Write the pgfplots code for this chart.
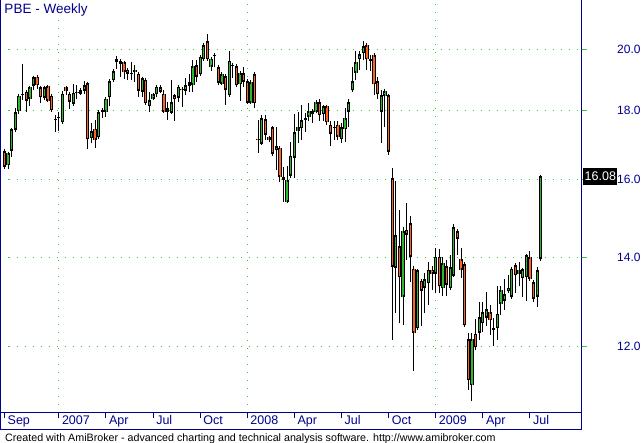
\documentclass[border=0pt]{standalone}
\usepackage{pgfplots}
\usepackage{pgfplotstable}
\pgfplotsset{compat=1.18}
\usepackage{fontspec}
\setmainfont{Liberation Sans}
\definecolor{abNavy}{HTML}{00008C}
\definecolor{abGrid}{HTML}{33CC33}
\definecolor{abUp}{HTML}{2DB82D}
\definecolor{abDown}{HTML}{FF6420}

% weekly PBE candles: week index, open, high, low, close
\pgfplotstableread{
i o h l c
0 16.80 16.83 16.29 16.34
1 16.39 16.77 16.29 16.73
2 16.81 17.44 16.62 17.43
3 17.41 18.09 17.40 17.95
4 17.98 18.49 17.90 18.47
5 18.51 19.50 18.33 18.48
6 18.60 18.62 17.97 18.31
7 18.37 18.75 18.14 18.74
8 18.78 19.07 18.65 19.06
9 19.09 19.10 18.70 18.80
10 18.74 18.75 18.24 18.42
11 18.40 18.75 18.38 18.74
12 18.77 18.78 18.28 18.31
13 18.47 18.48 17.97 18.01
14 17.74 17.87 17.36 17.72
15 17.80 17.97 17.39 17.82
16 17.65 18.62 17.64 18.54
17 18.74 18.75 18.48 18.63
18 18.54 18.55 18.06 18.28
19 18.21 18.84 18.18 18.57
20 18.57 18.80 18.35 18.59
21 18.54 18.70 18.49 18.65
22 18.63 18.93 18.52 18.80
23 18.87 18.92 16.86 17.14
24 17.17 17.62 17.02 17.37
25 17.45 17.72 16.88 17.12
26 17.20 17.98 17.18 17.96
27 17.96 18.02 17.78 18.02
28 17.97 18.39 17.82 18.38
29 18.42 18.95 18.14 18.94
30 18.97 19.32 18.95 19.27
31 19.69 19.78 19.33 19.58
32 19.61 19.62 19.08 19.51
33 19.56 19.57 19.01 19.24
34 19.32 19.33 18.99 19.19
35 19.20 19.57 18.97 19.22
36 19.24 19.47 18.92 19.32
37 19.19 19.20 18.44 18.63
38 18.60 19.04 18.44 19.03
39 18.99 19.00 18.18 18.23
40 18.14 18.60 17.97 18.32
41 18.38 18.54 18.33 18.51
42 18.51 18.77 18.44 18.76
43 18.74 18.81 18.59 18.60
44 18.54 18.65 17.96 17.97
45 18.07 18.28 17.72 17.97
46 17.94 18.99 17.92 18.26
47 18.48 18.49 17.70 18.35
48 18.40 18.77 18.28 18.76
49 18.70 18.71 18.12 18.64
50 18.63 19.03 18.49 18.80
51 18.79 19.16 18.60 18.91
52 18.81 19.64 18.60 19.43
53 19.47 19.64 18.92 19.08
54 19.16 19.78 19.14 19.75
55 19.66 20.18 19.64 20.15
56 20.29 20.53 19.64 19.66
57 19.41 19.74 19.28 19.69
58 19.80 19.87 19.39 19.78
59 19.41 19.44 18.87 18.88
60 18.86 19.18 18.84 19.17
61 19.11 19.14 18.18 18.65
62 18.48 19.96 18.46 19.61
63 19.45 19.53 19.03 19.47
64 19.44 19.45 18.78 18.80
65 18.83 19.23 18.31 19.21
66 19.21 19.41 18.76 18.91
67 18.94 18.95 18.24 18.25
68 18.25 18.92 18.24 18.91
69 19.17 19.18 18.09 18.23
70 17.15 17.72 16.75 17.13
71 17.01 17.87 17.00 17.77
72 17.75 17.86 17.12 17.27
73 17.20 17.21 17.07 17.12
74 17.49 17.50 16.69 16.71
75 16.82 17.50 16.26 16.94
76 16.89 16.90 15.93 16.06
77 16.06 16.35 15.40 15.98
78 15.40 16.37 15.36 15.98
79 16.09 17.07 16.03 16.66
80 16.61 17.90 16.04 17.35
81 17.39 17.97 17.02 17.50
82 17.46 18.17 17.12 17.72
83 17.71 17.94 17.36 17.78
84 17.82 18.25 17.67 17.99
85 17.99 18.04 17.63 17.89
86 17.97 18.28 17.92 18.27
87 18.27 18.38 17.67 17.86
88 17.89 18.17 17.67 18.14
89 18.14 18.15 17.57 17.65
90 17.57 17.67 16.93 17.31
91 17.49 17.67 17.12 17.47
92 17.57 17.67 17.12 17.22
93 17.14 17.62 17.04 17.50
94 17.43 18.07 17.07 17.77
95 17.97 18.38 17.51 18.27
96 18.64 19.41 18.60 18.93
97 19.21 19.93 18.97 19.57
98 19.66 19.95 19.30 19.84
99 19.87 20.30 19.64 20.11
100 20.14 20.21 19.32 19.66
101 19.66 19.81 19.28 19.62
102 19.81 19.87 18.49 18.83
103 18.94 19.08 18.38 18.52
104 17.97 18.65 17.04 18.49
105 18.46 18.65 17.51 18.62
106 18.48 18.49 16.69 16.77
107 16.03 16.31 12.14 13.76
108 13.74 15.96 12.72 14.54
109 14.27 15.18 12.49 13.52
110 13.07 14.75 12.46 14.64
111 14.67 15.35 13.93 14.55
112 14.84 15.01 13.42 14.00
113 13.72 13.78 11.51 12.29
114 12.39 13.68 12.36 13.68
115 13.44 13.45 12.43 13.21
116 13.28 13.62 12.72 13.48
117 13.38 13.89 12.90 13.70
118 13.70 13.78 13.23 13.60
119 13.60 14.21 13.16 14.01
120 14.01 14.19 13.16 13.31
121 13.27 14.01 13.10 13.85
122 13.78 13.93 13.10 13.34
123 13.27 14.05 13.23 13.76
124 13.56 14.82 13.55 14.74
125 14.64 14.67 14.05 14.45
126 13.95 14.21 13.50 13.70
127 13.83 13.84 12.42 12.45
128 12.16 12.29 11.15 11.33
129 11.23 12.29 10.93 12.16
130 12.27 12.58 11.94 11.99
131 12.29 12.97 12.14 12.63
132 12.49 12.96 12.30 12.74
133 12.61 13.19 12.44 12.80
134 12.74 12.90 12.25 12.56
135 12.35 12.61 12.01 12.40
136 12.39 13.31 12.14 12.70
137 12.92 13.32 12.68 13.23
138 12.99 13.48 12.79 13.14
139 13.20 13.58 13.18 13.28
140 13.07 13.77 13.05 13.72
141 13.81 13.85 13.16 13.57
142 13.60 13.87 13.31 13.68
143 13.50 13.74 13.06 13.71
144 13.52 14.05 12.99 14.04
145 14.00 14.15 13.46 13.48
146 13.41 13.46 12.97 13.03
147 13.07 13.77 12.84 13.68
148 13.95 16.08 13.95 16.08
}\pbe

\pgfplotsset{
    candle/.style={draw=none, mark=none, forget plot},
}
\tikzset{
    ylab/.style={anchor=west, inner sep=0pt, text=abNavy, xshift=36pt,
        font=\fontsize{12}{12}\selectfont},
}

\begin{document}
\begin{tikzpicture}
\path[use as bounding box] (0pt,0pt) rectangle (642pt,443pt);
\begin{axis}[
    at={(0.5pt,30pt)}, anchor=south west,
    scale only axis, width=580.5pt, height=413pt,
    xmin=-1.1, xmax=159.1,
    ymode=log, ymin=10.71, ymax=21.77,
    clip=false,
    axis line style={abNavy, line width=1pt},
    tick align=outside, major tick length=5.5pt,
    % year lines carry the vertical grid, months are extra ticks
    xtick={15,67,119},
    xticklabels={2007,2008,2009},
    extra x ticks={0,28,41,54,80,93,106,132,145},
    extra x tick labels={Sep,Apr,Jul,Oct,Apr,Jul,Oct,Apr,Jul},
    extra x tick style={grid=none},
    xtick pos=left,
    x tick style={abNavy, line width=1pt},
    xticklabel style={abNavy, anchor=north west, inner sep=0pt, xshift=3pt, yshift=3pt,
        font=\fontsize{12.5}{12.5}\selectfont},
    xmajorgrids, ymajorgrids,
    major grid style={abGrid, line width=1pt, dash pattern=on 1pt off 7pt},
    ytick={12,14,16,18,20},
    yticklabels={},
    yminorticks=false,
    ytick pos=right,
    y tick style={abGrid, line width=1pt},
]
% wicks
\addplot[candle,
    error bars/.cd, y dir=plus, y explicit, error mark=none,
    error bar style={draw=black, line width=1pt}]
    table[x=i, y=l, y error expr={\thisrow{h}-\thisrow{l}}] {\pbe};
% black body outlines
\addplot[candle,
    error bars/.cd, y dir=plus, y explicit, error mark=none,
    error bar style={draw=black, line width=3.3pt}]
    table[x=i, y expr={min(\thisrow{o},\thisrow{c})},
          y error expr={abs(\thisrow{c}-\thisrow{o})}] {\pbe};
% up bodies
\addplot[candle,
    restrict expr to domain={\thisrow{c}-\thisrow{o}}{0:100},
    error bars/.cd, y dir=both, y explicit, error mark=-,
    error mark options={draw=black, line width=1pt, mark size=1.65pt},
    error bar style={draw=abUp, line width=1.3pt}]
    table[x=i, y=o, y error plus expr={\thisrow{c}-\thisrow{o}}, y error minus expr={0}] {\pbe};
% down bodies
\addplot[candle,
    restrict expr to domain={\thisrow{o}-\thisrow{c}}{0.0001:100},
    error bars/.cd, y dir=both, y explicit, error mark=-,
    error mark options={draw=black, line width=1pt, mark size=1.65pt},
    error bar style={draw=abDown, line width=1.3pt}]
    table[x=i, y=c, y error plus expr={\thisrow{o}-\thisrow{c}}, y error minus expr={0}] {\pbe};
% price scale on the right
\node[ylab] at (axis cs:159.1,20) {20.0};
\node[ylab] at (axis cs:159.1,18) {18.0};
\node[ylab] at (axis cs:159.1,16) {16.0};
\node[ylab] at (axis cs:159.1,14) {14.0};
\node[ylab] at (axis cs:159.1,12) {12.0};
\node[fill=black, text=white, anchor=west, inner xsep=1.5pt, minimum height=17pt,
    font=\fontsize{12.5}{12.5}\selectfont] at (axis cs:159.1,16.08) [xshift=2pt] {16.08};
\end{axis}
\draw[abNavy, line width=1pt] (0.5pt,30pt) -- (0.5pt,13pt) -- (581pt,13pt) -- (581pt,30pt);
\node[anchor=base west, inner sep=0pt, abNavy, font=\fontsize{13.5}{14}\selectfont]
    at (4.3pt,429pt) {PBE - Weekly};
\node[anchor=base west, inner sep=0pt, font=\fontsize{10.7}{12}\selectfont]
    at (5pt,1.8pt) {Created with AmiBroker - advanced charting and technical analysis software. http://www.amibroker.com};
\end{tikzpicture}
\end{document}
